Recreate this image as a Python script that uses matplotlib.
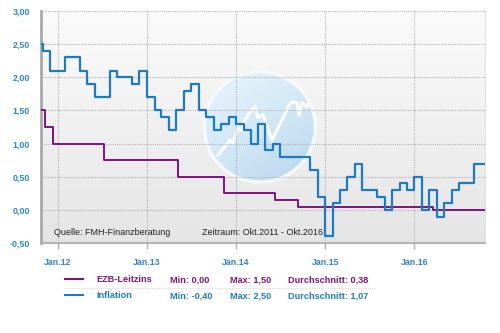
import numpy as np
import pandas as pd
import matplotlib
matplotlib.use("Agg")
import matplotlib.pyplot as plt
import matplotlib.dates as mdates
from matplotlib.patches import Ellipse
from matplotlib.lines import Line2D
from matplotlib.ticker import FuncFormatter

plt.rcParams['font.family'] = ['Liberation Sans', 'DejaVu Sans']

# Inflation (Vorjahresvergleich, %), monatlich Okt.2011 - Okt.2016
inflation_start = "2011-10-01"
inflation = [2.5, 2.4, 2.1,
             2.1, 2.3, 2.3, 2.1, 1.9, 1.7, 1.7, 2.1, 2.0, 2.0, 1.9, 2.1,
             1.7, 1.5, 1.4, 1.2, 1.5, 1.8, 1.9, 1.5, 1.4, 1.2, 1.3, 1.4,
             1.3, 1.2, 1.0, 1.3, 0.9, 1.0, 0.8, 0.8, 0.8, 0.8, 0.6, 0.2,
             -0.4, 0.1, 0.3, 0.5, 0.7, 0.3, 0.3, 0.2, 0.0, 0.3, 0.4, 0.3,
             0.5, 0.0, 0.3, -0.1, 0.1, 0.3, 0.4, 0.4, 0.7, 0.7]

# EZB-Leitzins, Änderungstermine
ezb_dates = ["2011-10-01", "2011-11-09", "2011-12-14", "2012-07-11", "2013-05-08",
             "2013-11-13", "2014-06-11", "2014-09-10", "2016-03-16"]
ezb_rate = [1.50, 1.25, 1.00, 0.75, 0.50, 0.25, 0.15, 0.05, 0.00]

x_start, x_end = "2011-10-25", "2016-10-16"
year_ticks = [2012, 2013, 2014, 2015, 2016]
y_ticks = [-0.5, 0.0, 0.5, 1.0, 1.5, 2.0, 2.5, 3.0]

legend_rows = [
    ("EZB-Leitzins", "Min: 0,00", "Max: 1,50", "Durchschnitt: 0,38"),
    ("Inflation", "Min: -0,40", "Max: 2,50", "Durchschnitt: 1,07"),
]

c_ezb = "#82127f"
c_infl = "#1b7cc3"
c_tick = "#2b86cc"

fig = plt.figure(figsize=(5, 3.33), dpi=100)
fig.patch.set_facecolor("white")
ax = fig.add_axes([0.082, 0.270, 0.888, 0.697])

# Hintergrundverlauf
grad = np.linspace(0, 1, 256).reshape(-1, 1)
bg = matplotlib.colors.LinearSegmentedColormap.from_list("bg", ["#e5e5e5", "#fbfbfb"])
ax.imshow(grad, cmap=bg, extent=[0, 1, 1, 0], transform=ax.transAxes,
          aspect="auto", zorder=0)

# Logo-Kreis im Hintergrund
gx, gy = np.meshgrid(np.linspace(0, 1, 200), np.linspace(0, 1, 200))
circ_cmap = matplotlib.colors.LinearSegmentedColormap.from_list(
    "circ", ["#eaf5fc", "#d2e8f6", "#b9d5eb"])
circle = Ellipse((0.493, 0.50), 0.250, 0.475, transform=ax.transAxes,
                 facecolor="none", edgecolor="#f4f9fd", lw=2.5, zorder=2)
img = ax.imshow((gx * 0.4 + gy * 0.6), cmap=circ_cmap,
                extent=[0.37, 0.62, 0.263, 0.738], transform=ax.transAxes,
                aspect="auto", zorder=1)
img.set_clip_path(circle)
ax.add_patch(circle)
trend_px = [(218, 155), (230, 140), (233, 143), (238, 128), (242, 130), (245, 120),
            (250, 112), (255, 107), (258, 117), (263, 115), (272, 140), (282, 120),
            (288, 107), (292, 102), (297, 103), (299, 116), (302, 103), (307, 107),
            (309, 101)]
tx = [(p[0] - 41) / 444 for p in trend_px]
ty = [(243 - p[1]) / 232 for p in trend_px]
ax.plot(tx, ty, color="white", lw=2.2, transform=ax.transAxes, zorder=2,
        solid_joinstyle="miter")

# Datenreihen als Treppenkurven
infl_dates = pd.date_range(inflation_start, periods=len(inflation) + 1, freq="MS")
infl_vals = inflation + [inflation[-1]]
ax.plot(infl_dates, infl_vals, drawstyle="steps-post", color=c_infl, lw=1.6, zorder=4)

ezb_x = pd.to_datetime(ezb_dates + ["2016-11-01"])
ezb_y = ezb_rate + [ezb_rate[-1]]
ax.plot(ezb_x, ezb_y, drawstyle="steps-post", color=c_ezb, lw=1.4, zorder=3)

ax.set_xlim(pd.Timestamp(x_start), pd.Timestamp(x_end))
ax.set_ylim(-0.5, 3.0)

ax.set_xticks([pd.Timestamp(f"{y}-01-01") for y in year_ticks])
ax.set_xticklabels([f"Jan.{str(y)[2:]}" for y in year_ticks])
ax.set_yticks(y_ticks)
ax.yaxis.set_major_formatter(FuncFormatter(lambda v, p: f"{v:.2f}".replace(".", ",")))

ax.grid(True, color="#b5b5b5", linestyle=(0, (1, 1)), lw=0.8, zorder=1)
ax.set_axisbelow(False)
for gl in ax.get_xgridlines() + ax.get_ygridlines():
    gl.set_zorder(1.5)

ax.tick_params(axis="x", length=4, width=1, color="#b0b0b0", pad=7,
               labelsize=6.4, labelcolor=c_tick)
ax.tick_params(axis="y", length=0, pad=8, labelsize=6.4, labelcolor=c_tick)
for lab in ax.get_xticklabels() + ax.get_yticklabels():
    lab.set_fontweight("bold")

ax.spines["top"].set_visible(False)
ax.spines["right"].set_color("#e0e0e0")
ax.spines["right"].set_linewidth(0.8)
ax.spines["left"].set_color("#a9a9a9")
ax.spines["left"].set_linewidth(2)
ax.spines["bottom"].set_color("#b5b5b5")
ax.spines["bottom"].set_linewidth(1.5)

ax.text(0.029, 0.047, "Quelle: FMH-Finanzberatung", transform=ax.transAxes,
        fontsize=6.5, color="#222222", va="center", zorder=5)
ax.text(0.362, 0.047, "Zeitraum: Okt.2011 - Okt.2016", transform=ax.transAxes,
        fontsize=6.5, color="#222222", va="center", zorder=5)

# Legende mit Kennzahlen
W, H = 500, 333
col_x = [96.7, 170, 230, 288.3]
row_y = [280, 295.5]
for (cells, col, yy) in zip(legend_rows, [c_ezb, c_infl], row_y):
    fig.add_artist(Line2D([65 / W, 83 / W], [1 - (yy - 0.7) / H] * 2,
                          color=col, lw=1.5, transform=fig.transFigure))
    for cx, txt in zip(col_x, cells):
        fig.text(cx / W, 1 - yy / H, txt, fontsize=6.6, fontweight="bold",
                 color=col, va="center", ha="left")
fig.add_artist(Line2D([65 / W, 375 / W], [1 - 287.7 / H] * 2, color="#d8d8d8",
                      lw=0.8, linestyle=(0, (1, 1)), transform=fig.transFigure))

fig.savefig("out.png", dpi=100)
